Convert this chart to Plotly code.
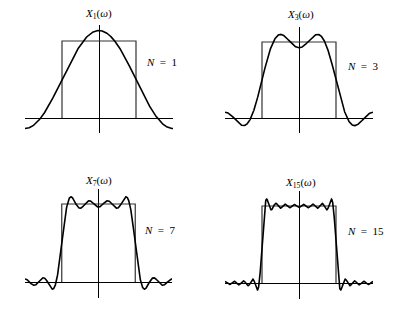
import numpy as np
import plotly.graph_objects as go

# Impulse-response samples h[n] = sin(n*pi/2)/(pi*n), n = 0..15 (ideal lowpass, cutoff pi/2)
h_coeffs = [0.5, 0.3183, 0.0, -0.1061, 0.0, 0.0637, 0.0, -0.0455,
            0.0, 0.0354, 0.0, -0.0289, 0.0, 0.0245, 0.0, -0.0212]
orders = [1, 3, 7, 15]
cutoff = np.pi / 2
ideal_x = [-cutoff, -cutoff, cutoff, cutoff]
ideal_y = [0, 1, 1, 0]

W, H = 405, 310
# panel pixel boxes: (x0, x1, ytop, ybottom, y_axis_pixel, rect_top_pixel)
boxes = [
    (25, 173, 25, 133, 118, 41),
    (225, 373, 27, 133, 118, 42),
    (25, 172, 189, 298, 282, 204),
    (225, 373, 191, 299, 283, 206),
]
titles = ["<i>X</i><sub>1</sub>(<i>ω</i>)", "<i>X</i><sub>3</sub>(<i>ω</i>)",
          "<i>X</i><sub>7</sub>(<i>ω</i>)", "<i>X</i><sub>15</sub>(<i>ω</i>)"]
title_pos = [(98, 14), (300, 15), (98, 181), (300, 183)]
sp = "&nbsp;&nbsp;"
nlabels = [f"<i>N</i>{sp}={sp}1", f"<i>N</i>{sp}={sp}3", f"<i>N</i>{sp}={sp}7", f"<i>N</i>{sp}={sp}15"]
nlabel_pos = [(161, 62), (363, 66), (160, 230), (365, 231)]

w = np.linspace(-np.pi, np.pi, 1200)
fig = go.Figure()
layout = dict(width=W, height=H, margin=dict(l=0, r=0, t=0, b=0),
              paper_bgcolor="white", plot_bgcolor="white", showlegend=False)
annotations = []
for i, (N, b) in enumerate(zip(orders, boxes)):
    x0, x1, yt, yb, yax, rt = b
    per = yax - rt
    ymax = (yax - yt) / per
    ymin = -(yb - yax) / per
    ax = "" if i == 0 else str(i + 1)
    X = np.full_like(w, h_coeffs[0])
    for n in range(1, N + 1):
        X += 2 * h_coeffs[n] * np.cos(n * w)
    fig.add_trace(go.Scatter(x=ideal_x, y=ideal_y, mode="lines",
                             line=dict(color="#333", width=1.2),
                             xaxis="x" + ax, yaxis="y" + ax, hoverinfo="skip"))
    fig.add_trace(go.Scatter(x=w, y=X, mode="lines",
                             line=dict(color="black", width=1.6),
                             xaxis="x" + ax, yaxis="y" + ax, cliponaxis=False))
    layout["xaxis" + ax] = dict(domain=[x0 / W, x1 / W], range=[-np.pi, np.pi],
                                showgrid=False, showticklabels=False, ticks="",
                                zeroline=True, zerolinecolor="black", zerolinewidth=1.2,
                                anchor="y" + ax, showline=False)
    layout["yaxis" + ax] = dict(domain=[1 - yb / H, 1 - yt / H], range=[ymin, ymax],
                                showgrid=False, showticklabels=False, ticks="",
                                zeroline=True, zerolinecolor="black", zerolinewidth=1.2,
                                anchor="x" + ax, showline=False)
    tx, ty = title_pos[i]
    annotations.append(dict(text=titles[i], x=tx / W, y=1 - ty / H, xref="paper", yref="paper",
                            showarrow=False, xanchor="center", yanchor="middle",
                            font=dict(family="Liberation Serif", size=11, color="black")))
    nx, ny = nlabel_pos[i]
    annotations.append(dict(text=nlabels[i], x=nx / W, y=1 - ny / H, xref="paper", yref="paper",
                            showarrow=False, xanchor="center", yanchor="middle",
                            font=dict(family="Liberation Serif", size=11, color="black")))
layout["annotations"] = annotations
fig.update_layout(**layout)
fig.write_html("out.html")
